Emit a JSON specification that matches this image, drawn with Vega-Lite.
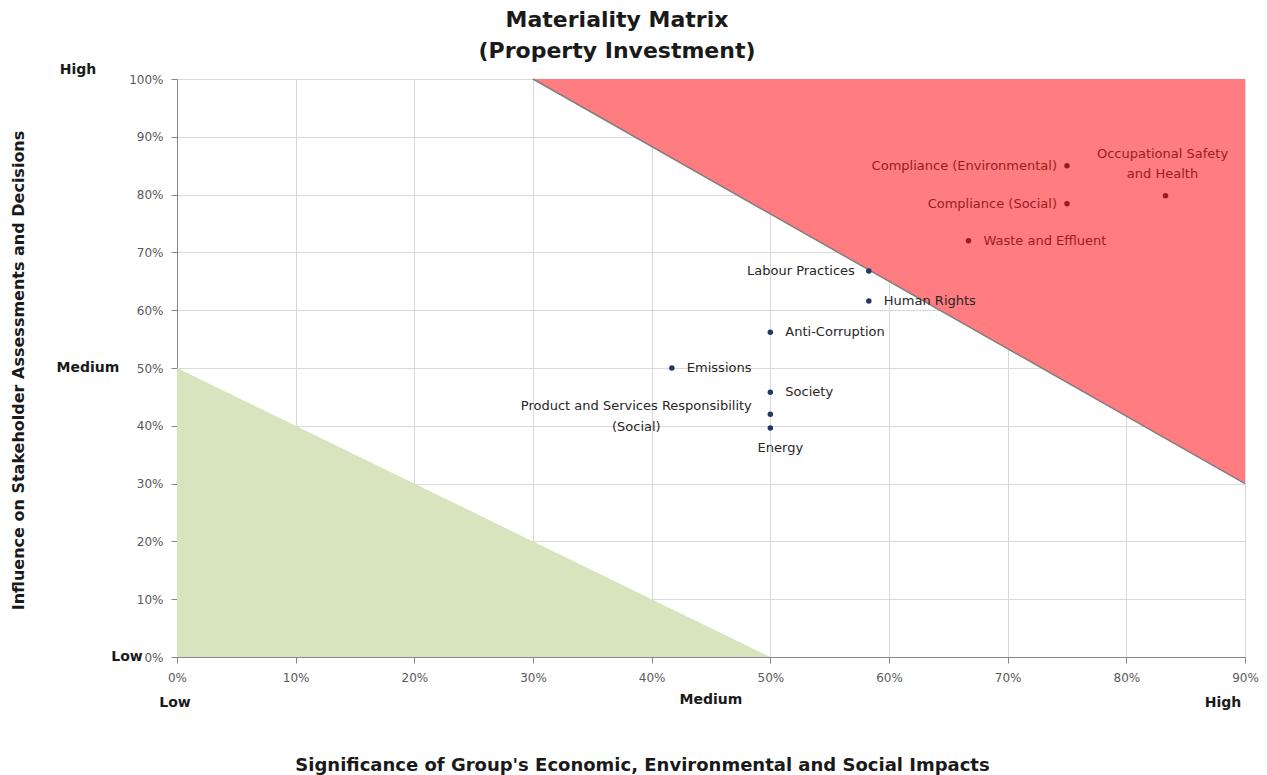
{
  "$schema": "https://vega.github.io/schema/vega-lite/v6.json",
  "width": 1068,
  "height": 578,
  "autosize": {"type": "none"},
  "padding": {"left": 177, "top": 79, "right": 22, "bottom": 118},
  "background": "white",
  "config": {"view": {"stroke": null}, "font": "DejaVu Sans"},
  "title": {
    "text": ["Materiality Matrix", "(Property Investment)"],
    "fontSize": 22,
    "fontWeight": "bold",
    "font": "DejaVu Sans",
    "color": "#1a1a1a",
    "anchor": "middle",
    "frame": "group",
    "dx": -94,
    "dy": 12,
    "offset": 12,
    "lineHeight": 31
  },
  "datasets": {
    "zones": [
      {"zone": "High", "x": 30, "y": 100, "y2": 100},
      {"zone": "High", "x": 90, "y": 30, "y2": 100},
      {"zone": "Low", "x": 0, "y": 50, "y2": 0},
      {"zone": "Low", "x": 50, "y": 0, "y2": 0}
    ],
    "topics": [
      {"topic": "Compliance (Environmental)", "significance": 75, "influence": 85, "priority": "High"},
      {"topic": "Compliance (Social)", "significance": 75, "influence": 78.4, "priority": "High"},
      {"topic": "Occupational Safety\nand Health", "significance": 83.3, "influence": 79.8, "priority": "High"},
      {"topic": "Waste and Effluent", "significance": 66.7, "influence": 72, "priority": "High"},
      {"topic": "Labour Practices", "significance": 58.3, "influence": 66.8, "priority": "Medium"},
      {"topic": "Human Rights", "significance": 58.3, "influence": 61.6, "priority": "Medium"},
      {"topic": "Anti-Corruption", "significance": 50, "influence": 56.2, "priority": "Medium"},
      {"topic": "Emissions", "significance": 41.7, "influence": 50, "priority": "Medium"},
      {"topic": "Society", "significance": 50, "influence": 45.8, "priority": "Medium"},
      {"topic": "Product and Services Responsibility\n(Social)", "significance": 50, "influence": 42, "priority": "Medium"},
      {"topic": "Energy", "significance": 50, "influence": 39.6, "priority": "Medium"}
    ],
    "one": [{}]
  },
  "layer": [
    {
      "data": {"name": "zones"},
      "transform": [{"filter": "datum.zone === 'High'"}],
      "mark": {"type": "area", "interpolate": "linear", "color": "#FF7C80", "opacity": 1},
      "encoding": {
        "x": {
          "field": "x",
          "type": "quantitative",
          "scale": {"domain": [0, 90], "nice": false, "zero": false},
          "axis": {
            "values": [0, 10, 20, 30, 40, 50, 60, 70, 80, 90],
            "labelExpr": "datum.value + '%'",
            "labelFlush": false,
            "grid": true,
            "gridColor": "#d9d9d9",
            "domainColor": "#868686",
            "tickColor": "#868686",
            "tickSize": 6,
            "labelFontSize": 12,
            "labelColor": "#595959",
            "labelPadding": 9,
            "title": "Significance of Group's Economic, Environmental and Social Impacts",
            "titleFontSize": 18,
            "titleFontWeight": "bold",
            "titleColor": "#1a1a1a",
            "titleX": 465,
            "titleY": 108,
            "titleBaseline": "middle",
            "titleAlign": "center"
          }
        },
        "y": {
          "field": "y",
          "type": "quantitative",
          "scale": {"domain": [0, 100], "nice": false},
          "axis": {
            "values": [0, 10, 20, 30, 40, 50, 60, 70, 80, 90, 100],
            "labelExpr": "datum.value + '%'",
            "labelFlush": false,
            "grid": true,
            "gridColor": "#d9d9d9",
            "domainColor": "#868686",
            "tickColor": "#868686",
            "tickSize": 6,
            "labelFontSize": 12,
            "labelColor": "#595959",
            "labelPadding": 8,
            "title": "Influence on Stakeholder Assessments and Decisions",
            "titleFontSize": 16,
            "titleFontWeight": "bold",
            "titleColor": "#1a1a1a",
            "titleX": -159,
            "titleY": 291,
            "titleBaseline": "middle",
            "titleAlign": "center"
          }
        },
        "y2": {"field": "y2"}
      }
    },
    {
      "data": {"name": "zones"},
      "transform": [{"filter": "datum.zone === 'Low'"}],
      "mark": {"type": "area", "interpolate": "linear", "color": "#D7E4BD", "opacity": 1},
      "encoding": {
        "x": {"field": "x", "type": "quantitative"},
        "y": {"field": "y", "type": "quantitative"},
        "y2": {"field": "y2"}
      }
    },
    {
      "data": {"name": "zones"},
      "transform": [{"filter": "datum.zone === 'High'"}],
      "mark": {"type": "line", "color": "#7f7f7f", "strokeWidth": 1.5},
      "encoding": {
        "x": {"field": "x", "type": "quantitative"},
        "y": {"field": "y", "type": "quantitative"}
      }
    },
    {
      "data": {"name": "topics"},
      "transform": [{"filter": "datum.priority === 'High'"}],
      "mark": {"type": "point", "filled": true, "size": 30, "opacity": 1, "color": "#9B1B22"},
      "encoding": {
        "x": {"field": "significance", "type": "quantitative"},
        "y": {"field": "influence", "type": "quantitative"}
      }
    },
    {
      "data": {"name": "topics"},
      "transform": [{"filter": "datum.priority === 'Medium'"}],
      "mark": {"type": "point", "filled": true, "size": 30, "opacity": 1, "color": "#1F3864"},
      "encoding": {
        "x": {"field": "significance", "type": "quantitative"},
        "y": {"field": "influence", "type": "quantitative"}
      }
    },
    {
      "data": {"name": "topics"},
      "transform": [{"filter": {"field": "topic", "oneOf": ["Compliance (Environmental)", "Compliance (Social)"]}}],
      "mark": {"type": "text", "align": "right", "baseline": "middle", "dx": -10, "fontSize": 13, "color": "#9B1B22"},
      "encoding": {
        "x": {"field": "significance", "type": "quantitative"},
        "y": {"field": "influence", "type": "quantitative"},
        "text": {"field": "topic"}
      }
    },
    {
      "data": {"name": "topics"},
      "transform": [{"filter": {"field": "topic", "oneOf": ["Labour Practices"]}}],
      "mark": {"type": "text", "align": "right", "baseline": "middle", "dx": -14, "fontSize": 13, "color": "#262626"},
      "encoding": {
        "x": {"field": "significance", "type": "quantitative"},
        "y": {"field": "influence", "type": "quantitative"},
        "text": {"field": "topic"}
      }
    },
    {
      "data": {"name": "topics"},
      "transform": [{"filter": {"field": "topic", "oneOf": ["Waste and Effluent"]}}],
      "mark": {"type": "text", "align": "left", "baseline": "middle", "dx": 15, "fontSize": 13, "color": "#9B1B22"},
      "encoding": {
        "x": {"field": "significance", "type": "quantitative"},
        "y": {"field": "influence", "type": "quantitative"},
        "text": {"field": "topic"}
      }
    },
    {
      "data": {"name": "topics"},
      "transform": [{"filter": {"field": "topic", "oneOf": ["Human Rights", "Anti-Corruption", "Emissions", "Society"]}}],
      "mark": {"type": "text", "align": "left", "baseline": "middle", "dx": 15, "fontSize": 13, "color": "#262626"},
      "encoding": {
        "x": {"field": "significance", "type": "quantitative"},
        "y": {"field": "influence", "type": "quantitative"},
        "text": {"field": "topic"}
      }
    },
    {
      "data": {"name": "topics"},
      "transform": [{"filter": {"field": "topic", "oneOf": ["Occupational Safety\nand Health"]}}],
      "mark": {"type": "text", "align": "center", "baseline": "top", "dx": -3, "dy": -48, "fontSize": 13, "lineHeight": 20, "lineBreak": "\n", "color": "#9B1B22"},
      "encoding": {
        "x": {"field": "significance", "type": "quantitative"},
        "y": {"field": "influence", "type": "quantitative"},
        "text": {"field": "topic"}
      }
    },
    {
      "data": {"name": "topics"},
      "transform": [{"filter": {"field": "topic", "oneOf": ["Product and Services Responsibility\n(Social)"]}}],
      "mark": {"type": "text", "align": "center", "baseline": "top", "dx": -134, "dy": -14, "fontSize": 13, "lineHeight": 21, "lineBreak": "\n", "color": "#262626"},
      "encoding": {
        "x": {"field": "significance", "type": "quantitative"},
        "y": {"field": "influence", "type": "quantitative"},
        "text": {"field": "topic"}
      }
    },
    {
      "data": {"name": "topics"},
      "transform": [{"filter": {"field": "topic", "oneOf": ["Energy"]}}],
      "mark": {"type": "text", "align": "center", "baseline": "middle", "dx": 10, "dy": 20, "fontSize": 13, "color": "#262626"},
      "encoding": {
        "x": {"field": "significance", "type": "quantitative"},
        "y": {"field": "influence", "type": "quantitative"},
        "text": {"field": "topic"}
      }
    },
    {
      "data": {"name": "one"},
      "mark": {"type": "text", "text": "High", "fontWeight": "bold", "fontSize": 14, "color": "#1a1a1a", "align": "center", "baseline": "middle", "dx": -99, "dy": -9},
      "encoding": {"x": {"datum": 0}, "y": {"datum": 100}}
    },
    {
      "data": {"name": "one"},
      "mark": {"type": "text", "text": "Medium", "fontWeight": "bold", "fontSize": 14, "color": "#1a1a1a", "align": "center", "baseline": "middle", "dx": -89, "dy": 0},
      "encoding": {"x": {"datum": 0}, "y": {"datum": 50}}
    },
    {
      "data": {"name": "one"},
      "mark": {"type": "text", "text": "Low", "fontWeight": "bold", "fontSize": 14, "color": "#1a1a1a", "align": "center", "baseline": "middle", "dx": -50, "dy": 0},
      "encoding": {"x": {"datum": 0}, "y": {"datum": 0}}
    },
    {
      "data": {"name": "one"},
      "mark": {"type": "text", "text": "Low", "fontWeight": "bold", "fontSize": 14, "color": "#1a1a1a", "align": "center", "baseline": "middle", "dx": -2, "dy": 46},
      "encoding": {"x": {"datum": 0}, "y": {"datum": 0}}
    },
    {
      "data": {"name": "one"},
      "mark": {"type": "text", "text": "Medium", "fontWeight": "bold", "fontSize": 14, "color": "#1a1a1a", "align": "center", "baseline": "middle", "dx": 0, "dy": 43},
      "encoding": {"x": {"datum": 45}, "y": {"datum": 0}}
    },
    {
      "data": {"name": "one"},
      "mark": {"type": "text", "text": "High", "fontWeight": "bold", "fontSize": 14, "color": "#1a1a1a", "align": "center", "baseline": "middle", "dx": -22, "dy": 46},
      "encoding": {"x": {"datum": 90}, "y": {"datum": 0}}
    }
  ]
}
